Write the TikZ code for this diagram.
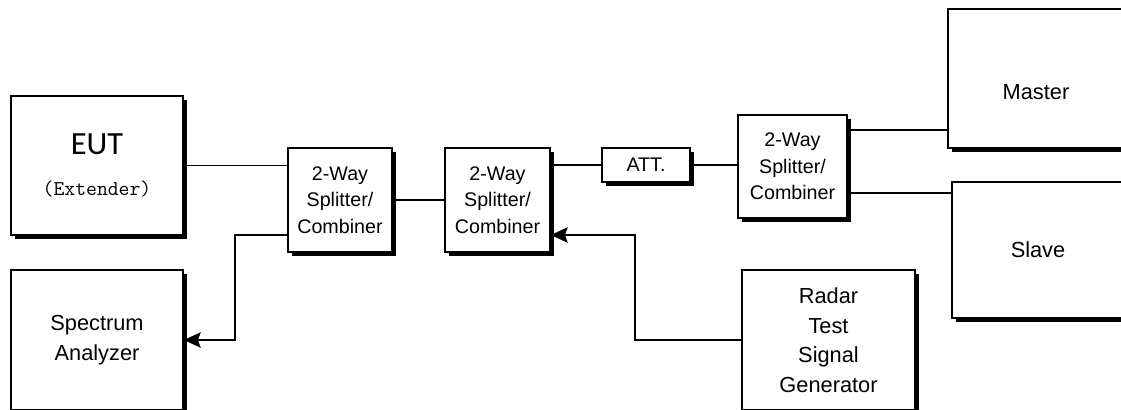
\documentclass[tikz,border=0pt]{standalone}
\usepackage{fontspec}
\setmainfont{Liberation Sans}
\newfontfamily\eutfont{Carlito}
\usetikzlibrary{arrows.meta,shadows}

\begin{document}
\begin{tikzpicture}[
  x=0.25mm,y=-0.25mm,
  box/.style={
    draw,
    line width=1.2pt,
    fill=white,
    align=center,
    inner sep=0pt,
    font=\fontsize{15.5}{21}\selectfont,
    drop shadow={fill=black,opacity=1,shadow xshift=2.6pt,shadow yshift=-2.6pt}
  },
  splitbox/.style={box,minimum width=26mm,minimum height=26mm,
    font=\fontsize{14}{19}\selectfont},
  link/.style={line width=1.1pt},
  tip/.style={-{Stealth[length=12pt,width=11pt,inset=2pt]}}
]
  \useasboundingbox (0,0) rectangle (1121,409);
  \clip (0,0) rectangle (1121,409);
  \fill[white] (0,0) rectangle (1121,409);

  % instruments on the left
  \node[box,minimum width=43mm,minimum height=34.75mm] (eut) at (97,165.5)
    {{\eutfont\fontsize{23}{23}\selectfont EUT}\\[8pt]
     {\ttfamily\fontsize{15}{17}\selectfont (Extender)}};
  \node[box,minimum width=43mm,minimum height=35mm] (spec) at (97,340)
    {Spectrum\\Analyzer};

  % splitter chain
  \node[splitbox] (sp1) at (340,200) {2-Way\\Splitter/\\Combiner};
  \node[splitbox,minimum width=26.25mm] (sp2) at (497.5,200) {2-Way\\Splitter/\\Combiner};
  \node[box,minimum width=22mm,minimum height=8.5mm,
    font=\fontsize{14}{19}\selectfont] (att) at (646,165) {ATT.};
  \node[splitbox,minimum width=27.25mm,minimum height=25.75mm] (sp3) at (792.5,166.5)
    {2-Way\\Splitter/\\Combiner};

  % units on the right
  \node[box,minimum width=44mm,minimum height=34.75mm,
    label={[font=\fontsize{15.5}{21}\selectfont,yshift=-10pt]center:Master}] (master) at (1036,78.5) {};
  \node[box,minimum width=43mm,minimum height=34mm] (slave) at (1038,250) {Slave};
  \node[box,minimum width=43.25mm,minimum height=35mm] (radar) at (828.5,340)
    {Radar\\Test\\Signal\\Generator};

  \coordinate (tap) at (235,235);
  \coordinate (rtap) at (635,235);
  \coordinate (mtap) at (900,130);
  \coordinate (stap) at (900,193);

  \draw[link] (eut.east) -- (eut.east -| sp1.west);
  \draw[link,tip] (sp1.west |- tap) -- (tap) |- (spec.east);
  \draw[link] (sp1) -- (sp2);
  \draw[link] (sp2.east |- att) -- (att);
  \draw[link] (att.east) -- (att.east -| sp3.west);
  \draw[link] (sp3.east |- mtap) -- (mtap -| master.west);
  \draw[link] (sp3.east |- stap) -- (stap -| slave.west);
  \draw[link,tip] (radar.west) -| (rtap) -- (sp2.east |- rtap);
\end{tikzpicture}
\end{document}
